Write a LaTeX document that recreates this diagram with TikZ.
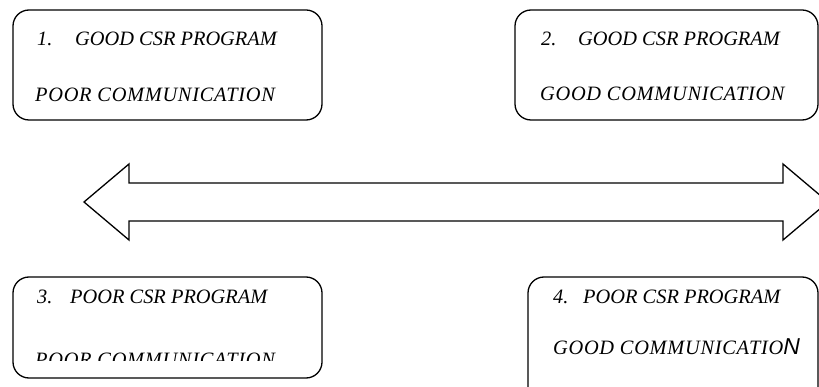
\documentclass[tikz,border=0pt]{standalone}
\usepackage{fontspec}
\setmainfont{Liberation Serif}
\newfontfamily\arialfont{Liberation Sans}
\newfontfamily\spacedfont[LetterSpace=3.4]{Liberation Serif}
\begin{document}
\begin{tikzpicture}[x=1pt,y=-1pt,
  box/.style={draw, line width=1.3pt, rounded corners=16pt, inner sep=0pt},
  txt/.style={inner sep=0pt, anchor=base west, font=\fontsize{20.4}{24}\selectfont\itshape},
  txtw/.style={inner sep=0pt, anchor=base west, font=\spacedfont\fontsize{20.4}{24}\selectfont\itshape}]
\useasboundingbox (0,0) rectangle (819,387);
% boxes
\node[box, minimum width=309pt, minimum height=110pt] (b1) at (167.5,65) {};
\node[box, minimum width=303pt, minimum height=110pt] (b2) at (666.5,65) {};
\node[box, minimum width=309pt, minimum height=101pt] (b3) at (167.5,327.5) {};
\node[box, minimum width=290pt, minimum height=140pt] (b4) at (673,347) {};
% box 1 text
\node[txt] (n1) at (37,46) {1.};
\node[txt] (t1a) at (75,46) {GOOD CSR PROGRAM};
\node[txtw] (t1b) at (35,102) {POOR COMMUNICATION};
% box 2 text
\node[txt] (n2) at (541,46) {2.};
\node[txt] (t2a) at (578,46) {GOOD CSR PROGRAM};
\node[txtw] (t2b) at (540,101) {GOOD COMMUNICATION};
% box 3 text
\node[txt] (n3) at (37,304) {3.};
\node[txt] (t3a) at (70,304) {POOR CSR PROGRAM};
\begin{scope}
\clip (0,0) rectangle (819,360);
\node[txtw] (t3b) at (35,366) {POOR COMMUNICATION};
\end{scope}
% box 4 text
\node[txt] (n4) at (553,304) {4.};
\node[txt] (t4a) at (583,304) {POOR CSR PROGRAM};
\node[txtw] (t4b) at (553,354) {GOOD COMMUNICATIO{\arialfont\fontsize{23}{26}\selectfont N}};
% double arrow
\draw[line width=1.3pt, line join=miter]
  (84,202) -- (129,164) -- (129,183) -- (783,183) -- (783,164) -- (828,202)
  -- (783,240) -- (783,221) -- (129,221) -- (129,240) -- cycle;
\end{tikzpicture}
\end{document}
